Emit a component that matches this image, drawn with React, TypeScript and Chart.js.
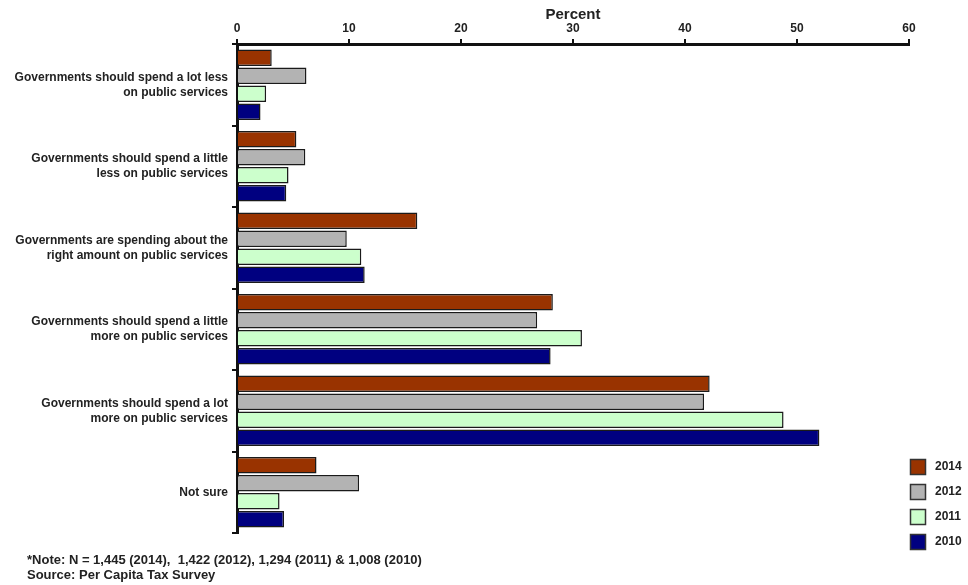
import React, { useEffect, useRef } from "react";
import { Chart, registerables } from "chart.js";
Chart.register(...registerables);

const categories: (string | string[])[] = [
  ["Governments should spend a lot less", "on public services"],
  ["Governments should spend a little", "less on public services"],
  ["Governments are spending about the", "right amount on public services"],
  ["Governments should spend a little", "more on public services"],
  ["Governments should spend a lot", "more on public services"],
  "Not sure",
];
const years = ["2014", "2012", "2011", "2010"];
const values2014 = [3.1, 5.3, 16.1, 28.2, 42.2, 7.1];
const values2012 = [6.2, 6.1, 9.8, 26.8, 41.7, 10.9];
const values2011 = [2.6, 4.6, 11.1, 30.8, 48.8, 3.8];
const values2010 = [2.1, 4.4, 11.4, 28.0, 52.0, 4.2];
const seriesColors = ["#993300", "#b3b3b3", "#ccffcc", "#000080"];
const axisTitle = "Percent";
const xMin = 0;
const xMax = 60;
const xStep = 10;
const noteLines = [
  "*Note: N = 1,445 (2014),  1,422 (2012), 1,294 (2011) & 1,008 (2010)",
  "Source: Per Capita Tax Survey",
];

const FONT = "'Liberation Sans', Arial, Helvetica, sans-serif";

const legendPlugin = {
  id: "sideLegend",
  afterDraw(chart: any) {
    const ctx = chart.ctx;
    ctx.save();
    chart.data.datasets.forEach((ds: any, i: number) => {
      const x = 910;
      const y = 459 + i * 25;
      ctx.fillStyle = ds.backgroundColor;
      ctx.fillRect(x, y, 15, 15);
      ctx.strokeStyle = "#333";
      ctx.lineWidth = 1.5;
      ctx.strokeRect(x + 0.5, y + 0.5, 15, 15);
      ctx.fillStyle = "#222";
      ctx.font = "bold 12px " + FONT;
      ctx.textBaseline = "middle";
      ctx.textAlign = "left";
      ctx.fillText(ds.label, 935, y + 8);
    });
    ctx.restore();
  },
};

export default function App() {
  const ref = useRef<HTMLCanvasElement>(null);
  useEffect(() => {
    if (!ref.current) return;
    const dataSets = [values2014, values2012, values2011, values2010];
    const chart = new Chart(ref.current, {
      type: "bar",
      data: {
        labels: categories,
        datasets: years.map((y, i) => ({
          label: y,
          data: dataSets[i],
          backgroundColor: seriesColors[i],
          borderColor: "#1a1a1a",
          borderWidth: 1.5,
          categoryPercentage: 0.88,
          barPercentage: 0.92,
        })),
      },
      options: {
        indexAxis: "y",
        responsive: false,
        animation: false,
        devicePixelRatio: 1,
        layout: { padding: { left: 0, right: 59, top: 0, bottom: 52 } },
        plugins: { legend: { display: false }, tooltip: { enabled: false } },
        scales: {
          x: {
            position: "top",
            min: xMin,
            max: xMax,
            ticks: {
              stepSize: xStep,
              color: "#222",
              padding: 3,
              font: { family: FONT, size: 12, weight: "bold" },
            },
            grid: {
              drawOnChartArea: false,
              drawTicks: true,
              tickLength: 5,
              color: "#111",
              lineWidth: 2,
            },
            border: { display: true, color: "#111", width: 3 },
            title: {
              display: true,
              text: axisTitle,
              color: "#222",
              padding: { top: 6, bottom: 0 },
              font: { family: FONT, size: 15, weight: "bold" },
            },
            afterFit: (scale: any) => {
              scale.height = 44;
            },
          },
          y: {
            ticks: {
              color: "#222",
              padding: 4,
              font: { family: FONT, size: 12, weight: "bold", lineHeight: 1.25 },
            },
            grid: {
              drawOnChartArea: false,
              drawTicks: true,
              tickLength: 5,
              color: "#111",
              lineWidth: 2,
            },
            border: { display: true, color: "#111", width: 3 },
            afterFit: (scale: any) => {
              scale.width = 237;
            },
          },
        },
      },
      plugins: [legendPlugin],
    } as any);
    return () => chart.destroy();
  }, []);
  return (
    <div style={{ position: "absolute", left: 0, top: 0, width: 968, height: 585, background: "#fff" }}>
      <canvas ref={ref} width={968} height={585} style={{ display: "block" }} />
      <div
        style={{
          position: "absolute",
          left: 27,
          top: 552,
          fontFamily: FONT,
          fontWeight: "bold",
          fontSize: 13,
          lineHeight: "15px",
          color: "#222",
          whiteSpace: "pre",
        }}
      >
        {noteLines.map((l, i) => (
          <div key={i}>{l}</div>
        ))}
      </div>
    </div>
  );
}
